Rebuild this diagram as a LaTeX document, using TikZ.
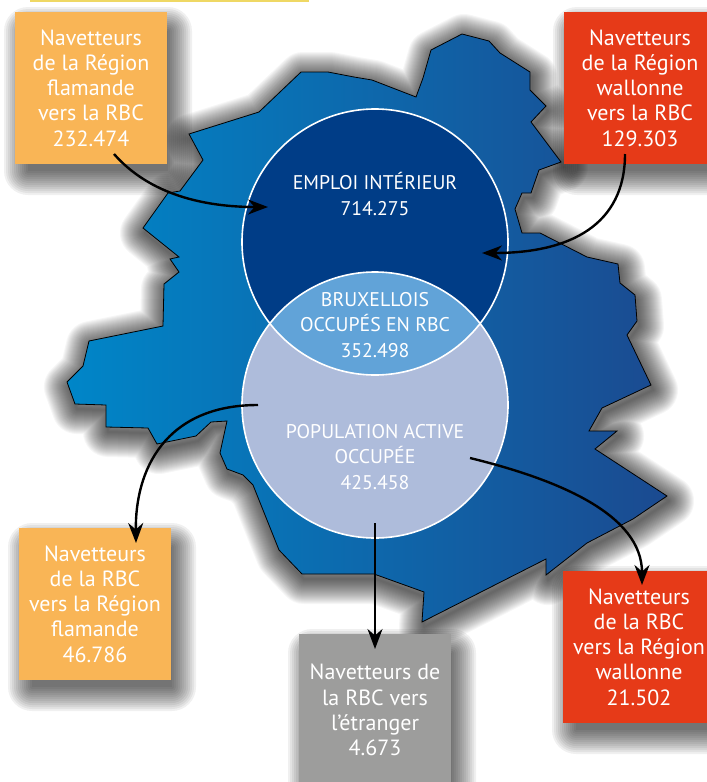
\documentclass[tikz,border=0pt]{standalone}
\usepackage{fontspec}
\setmainfont{PT Sans}
\usetikzlibrary{arrows.meta}
\definecolor{barcol}{HTML}{EFD864}
\definecolor{flamand}{HTML}{F9B556}
\definecolor{wallon}{HTML}{E63A18}
\definecolor{etranger}{HTML}{9D9D9C}
\definecolor{emploicol}{HTML}{003D87}
\definecolor{lenscol}{HTML}{61A3D8}
\definecolor{popcol}{HTML}{AEBCDB}
\definecolor{mapleft}{HTML}{0086C8}
\definecolor{mapmid}{HTML}{0066AE}
\definecolor{mapright}{HTML}{1B4A90}
\newcommand\rad{133pt}
\newcommand\mapoutline{(354,77) -- (328,72) -- (301,72) -- (259,112) -- (189,134) -- (203,160) -- (180,191) -- (168,193)
    -- (143,228) -- (179,257) -- (170,259) -- (179,272) -- (164,284) -- (163,326) -- (89,341) -- (83,366)
    -- (67,382) -- (75,404) -- (106,405) -- (106,427) -- (148,428) -- (157,444) -- (196,436) -- (211,422)
    -- (227,421) -- (220,453) -- (227,469) -- (243,475) -- (253,485) -- (279,550) -- (302,574) -- (374,574)
    -- (424,592) -- (422,622) -- (546,559) -- (546,575) -- (587,543) -- (633,519) -- (667,496) -- (595,449)
    -- (617,431) -- (589,431) -- (602,408) -- (651,385) -- (627,335) -- (637,321) -- (635,295) -- (620,283)
    -- (618,264) -- (587,257) -- (540,233) -- (522,233) -- (515,209) -- (522,193) -- (531,193) -- (539,170)
    -- (561,162) -- (531,122) -- (546,106) -- (530,90) -- (530,72) -- (500,53) -- (489,41) -- (462,34)
    -- (431,50) -- (423,78) -- (416,97) -- (372,80) -- cycle}

\begin{document}
\begin{tikzpicture}[x=1pt, y=-1pt,
    navbox/.style = {minimum size=152pt, inner sep=0pt, outer sep=0pt, align=center, text=white, font=\fontsize{22}{25.3}\selectfont},
    venntext/.style = {align=center, text=white, font=\fontsize{19.8}{25.3}\selectfont},
    disc/.style = {circle, minimum size=2*\rad, inner sep=0pt, outer sep=0pt},
    navarrow/.style = {-{Stealth[length=20pt, width=15pt]}, line width=2.4pt, black}]
    \useasboundingbox (0,0) rectangle (707,782);

    %Bar
    \fill[barcol] (30,0) rectangle (309,2);

    %Shadows
    \foreach \cx/\cy in {91/88, 640/88, 95/604, 375/710, 639/647}
        \foreach \d in {-6,-4,...,18}
            \fill[black, opacity=0.06, rounded corners=\d pt+6pt] (\cx-69-\d,\cy-63-\d) rectangle (\cx+83+\d,\cy+89+\d);
    \foreach \w in {2,4,...,50}
        \draw[black, line join=round, opacity=0.035, line width=\w pt, shift={(2,5)}] \mapoutline;

    %Map
    \shade[draw=black, line width=0.8pt, left color=mapleft, middle color=mapmid, right color=mapright] \mapoutline;

    %Circles
    \node at (375,242) [disc, fill=emploicol] (emploi) {};
    \node at (375,405) [disc, fill=popcol] (population) {};
    \begin{scope}
        \clip (375,242) circle (\rad);
        \fill[lenscol] (375,405) circle (\rad);
    \end{scope}
    \node at (375,242) [disc, draw=white, line width=1.6pt] (emploiring) {};
    \node at (375,405) [disc, draw=white, line width=1.6pt] (popring) {};

    \node at (375,194) [venntext] (emploilabel) {EMPLOI INTÉRIEUR\\714.275};
    \node at (375,325) [venntext] (lenslabel) {BRUXELLOIS\\OCCUPÉS EN RBC\\352.498};
    \node at (375,457) [venntext] (poplabel) {POPULATION ACTIVE\\OCCUPÉE\\425.458};

    %Boxes
    \node at (91,88) [navbox, fill=flamand] (flamin) {Navetteurs\\de la Région\\flamande\\vers la RBC\\232.474};
    \node at (640,88) [navbox, fill=wallon] (walin) {Navetteurs\\de la Région\\wallonne\\vers la RBC\\129.303};
    \node at (95,604) [navbox, fill=flamand] (flamout) {Navetteurs\\de la RBC\\vers la Région\\flamande\\46.786};
    \node at (375,710) [navbox, fill=etranger] (abroad) {Navetteurs de\\la RBC vers\\l’étranger\\4.673};
    \node at (639,647) [navbox, fill=wallon] (walout) {Navetteurs\\de la RBC\\vers la Région\\wallonne\\21.502};

    %Arrows
    \coordinate (flaminstart) at (114,154);
    \coordinate (flaminend) at (268,207);
    \coordinate (walinstart) at (625,154);
    \coordinate (walinend) at (482,253);
    \coordinate (flamoutstart) at (258,405);
    \coordinate (flamoutend) at (136,543);
    \coordinate (abroadstart) at (375,523);
    \coordinate (abroadend) at (375,649);
    \coordinate (waloutstart) at (470,458);
    \coordinate (waloutend) at (642,585);

    \draw[navarrow] (flaminstart) .. controls (150,195) and (205,207) .. (flaminend);
    \draw[navarrow] (walinstart) .. controls (625,225) and (570,253) .. (walinend);
    \draw[navarrow] (flamoutstart) .. controls (165,405) and (135,470) .. (flamoutend);
    \draw[navarrow] (abroadstart) -- (abroadend);
    \draw[navarrow] (waloutstart) .. controls (560,480) and (642,515) .. (waloutend);
\end{tikzpicture}
\end{document}
